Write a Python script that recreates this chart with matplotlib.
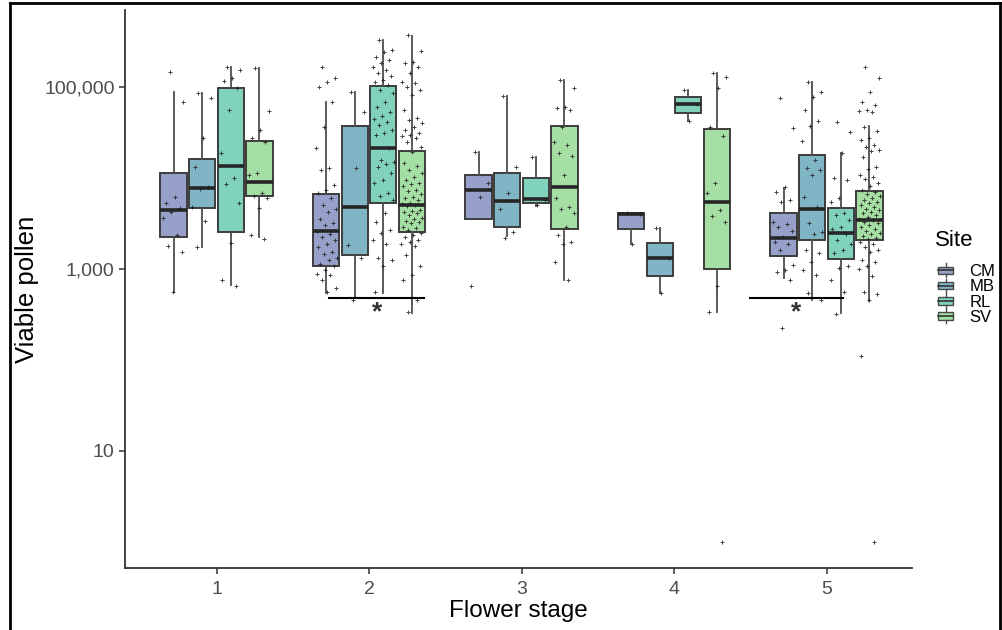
import matplotlib
matplotlib.use("Agg")
import matplotlib.pyplot as plt
import numpy as np
from matplotlib.legend_handler import HandlerBase
from matplotlib.patches import Rectangle, Patch
from matplotlib.lines import Line2D
from matplotlib.ticker import FixedLocator, FixedFormatter, NullLocator

plt.rcParams['font.family'] = ['Liberation Sans', 'DejaVu Sans']

stages = [1, 2, 3, 4, 5]
stage_labels = ['1', '2', '3', '4', '5']
sites = ['CM', 'MB', 'RL', 'SV']
colors = {'CM': '#96A0C8', 'MB': '#7FB5C5', 'RL': '#80D2BD', 'SV': '#A6DFA3'}

# box statistics in log10(viable pollen), one value per flower stage 1..5
q1 = {'CM': [3.35, 3.03, 3.55, 3.44, 3.14],
      'MB': [3.67, 3.15, 3.46, 2.92, 3.32],
      'RL': [3.41, 3.72, 3.72, 4.71, 3.11],
      'SV': [3.80, 3.41, 3.44, 3.00, 3.32]}
med = {'CM': [3.65, 3.42, 3.87, 3.60, 3.34],
       'MB': [3.89, 3.68, 3.75, 3.12, 3.66],
       'RL': [4.13, 4.33, 3.77, 4.81, 3.40],
       'SV': [3.96, 3.70, 3.90, 3.74, 3.54]}
q3 = {'CM': [4.05, 3.82, 4.03, 3.61, 3.61],
      'MB': [4.21, 4.57, 4.05, 3.29, 4.25],
      'RL': [4.99, 5.01, 4.00, 4.89, 3.67],
      'SV': [4.41, 4.30, 4.57, 4.54, 3.86]}
whis_lo = {'CM': [2.75, 2.74, 3.55, 3.27, 2.90],
           'MB': [3.24, 2.68, 3.36, 2.74, 2.66],
           'RL': [2.82, 2.74, 3.69, 4.63, 2.52],
           'SV': [3.35, 2.52, 2.88, 2.53, 2.65]}
whis_hi = {'CM': [4.95, 4.83, 4.29, 3.61, 3.89],
           'MB': [4.93, 4.94, 4.90, 3.45, 5.05],
           'RL': [5.22, 5.52, 4.23, 4.97, 4.27],
           'SV': [5.21, 5.56, 5.08, 5.15, 4.57]}

# individual observations (log10 viable pollen), per site, per stage
points_CM = [
    [5.16, 4.84, 3.79, 3.72, 3.67, 3.63, 3.56, 3.37, 3.25, 3.19, 2.75],
    [5.22, 5.10, 5.06, 5.00, 4.83, 4.56, 4.33, 4.11, 4.09, 3.92, 3.87, 3.83, 3.78,
     3.70, 3.66, 3.63, 3.55, 3.50, 3.48, 3.42, 3.38, 3.35, 3.32, 3.28, 3.24, 3.19,
     3.17, 3.12, 3.10, 3.05, 3.03, 2.99, 2.95, 2.93, 2.88, 2.79, 2.75],
    [4.29, 3.94, 3.79, 2.81],
    [3.62, 3.60, 3.27],
    [4.88, 4.55, 3.90, 3.85, 3.76, 3.74, 3.52, 3.49, 3.46, 3.42, 3.35, 3.30, 3.27,
     3.21, 3.04, 2.99, 2.97, 2.88, 2.35],
]
points_MB = [
    [4.93, 4.88, 4.44, 4.12, 3.90, 3.88, 3.68, 3.53, 3.24],
    [4.94, 4.73, 4.11, 3.26, 3.12, 2.66],
    [4.90, 4.12, 3.84, 3.66, 3.41, 3.34],
    [3.45, 3.12, 2.74],
    [5.05, 4.95, 4.89, 4.75, 4.63, 4.57, 4.41, 4.20, 4.11, 4.09, 4.03, 3.79, 3.68,
     3.50, 3.41, 3.38, 3.21, 3.18, 3.08, 2.99, 2.93, 2.74, 2.66],
]
points_RL = [
    [5.22, 5.19, 5.10, 5.07, 4.99, 4.75, 4.27, 4.00, 3.93, 3.73, 3.29, 2.88, 2.81],
    [5.52, 5.41, 5.38, 5.33, 5.30, 5.26, 5.22, 5.19, 5.15, 5.12, 5.08, 5.05, 5.02,
     4.97, 4.93, 4.84, 4.78, 4.73, 4.68, 4.65, 4.62, 4.58, 4.53, 4.49, 4.47, 4.33,
     4.20, 4.18, 4.15, 4.12, 4.05, 3.98, 3.95, 3.83, 3.80, 3.76, 3.61, 3.52, 3.43,
     3.40, 3.32, 3.28, 3.12, 3.10, 3.03, 2.75],
    [4.23, 3.76, 3.70],
    [4.97, 4.81, 4.63],
    [4.62, 4.51, 4.27, 4.00, 3.98, 3.78, 3.74, 3.61, 3.59, 3.54, 3.46, 3.44, 3.38,
     3.32, 3.28, 3.21, 3.18, 3.03, 3.01, 2.88, 2.75, 2.51],
]
points_SV = [
    [5.21, 4.74, 4.53, 4.44, 4.39, 4.06, 4.03, 3.83, 3.80, 3.78, 3.67, 3.37, 3.33],
    [5.57, 5.39, 5.28, 5.26, 5.22, 5.15, 5.06, 5.04, 5.00, 4.97, 4.91, 4.75, 4.66,
     4.64, 4.60, 4.56, 4.53, 4.49, 4.47, 4.46, 4.44, 4.40, 4.34, 4.29, 4.16, 4.13,
     4.09, 4.05, 4.01, 3.98, 3.94, 3.93, 3.91, 3.87, 3.86, 3.82, 3.79, 3.78, 3.76,
     3.72, 3.71, 3.70, 3.69, 3.65, 3.64, 3.63, 3.61, 3.59, 3.56, 3.55, 3.53, 3.52,
     3.50, 3.46, 3.45, 3.43, 3.39, 3.37, 3.35, 3.32, 3.30, 3.28, 3.25, 3.15, 3.03,
     2.93, 2.88, 2.66, 2.53],
    [5.08, 4.99, 4.78, 4.77, 4.75, 4.56, 4.40, 4.36, 4.27, 4.24, 4.03, 3.78, 3.68,
     3.66, 3.62, 3.46, 3.37, 3.30, 3.28, 3.08, 2.88],
    [5.15, 5.11, 4.99, 4.56, 4.46, 3.95, 3.83, 3.65, 3.58, 3.52, 2.81, 2.53, 0.0],
    [5.22, 5.10, 4.95, 4.84, 4.80, 4.75, 4.74, 4.73, 4.56, 4.52, 4.44, 4.42, 4.36,
     4.34, 4.31, 4.30, 4.23, 4.12, 4.10, 4.03, 4.01, 3.99, 3.94, 3.91, 3.87, 3.85,
     3.82, 3.80, 3.78, 3.76, 3.74, 3.72, 3.70, 3.68, 3.66, 3.65, 3.63, 3.61, 3.59,
     3.57, 3.55, 3.54, 3.52, 3.50, 3.48, 3.46, 3.44, 3.42, 3.40, 3.38, 3.36, 3.34,
     3.33, 3.30, 3.27, 3.24, 3.21, 3.19, 3.10, 3.08, 3.03, 3.00, 2.92, 2.75, 2.73,
     2.66, 2.04, 0.0],
]
points = {'CM': points_CM, 'MB': points_MB, 'RL': points_RL, 'SV': points_SV}

# pairwise-test markers (stage position range, y level)
sig_spans = [(1.74, 2.36), (4.50, 5.11)]
sig_stars = [2.05, 4.80]


class BoxKeyHandler(HandlerBase):
    """Legend key drawn like a tiny boxplot (as ggplot does)."""
    def create_artists(self, legend, orig_handle, xdescent, ydescent,
                       width, height, fontsize, trans):
        x0, y0 = -xdescent, -ydescent
        fc = orig_handle.get_facecolor()
        rect = Rectangle((x0 + 0.08 * width, y0 + 0.2 * height), 0.84 * width, 0.6 * height,
                         facecolor=fc, edgecolor='#4a4a4a', lw=1.0, transform=trans)
        mid = Line2D([x0 + 0.08 * width, x0 + 0.92 * width], [y0 + 0.5 * height] * 2,
                     color='#333333', lw=1.2, transform=trans)
        wl = Line2D([x0 + 0.5 * width] * 2, [y0 - 0.05 * height, y0 + 0.2 * height],
                    color='#4a4a4a', lw=1.0, transform=trans)
        wh = Line2D([x0 + 0.5 * width] * 2, [y0 + 0.8 * height, y0 + 1.05 * height],
                    color='#4a4a4a', lw=1.0, transform=trans)
        return [rect, mid, wl, wh]


fig = plt.figure(figsize=(10.03, 6.30), dpi=100)
ax = fig.add_axes([125 / 1003, 62 / 630, 787 / 1003, 558 / 630])

dodge = 0.1875
box_w = 0.172
jit = 0.07
for k, site in enumerate(sites):
    off = (k - 1.5) * dodge
    stats = []
    pos = []
    for i, st in enumerate(stages):
        stats.append({'med': 10 ** med[site][i], 'q1': 10 ** q1[site][i],
                      'q3': 10 ** q3[site][i], 'whislo': 10 ** whis_lo[site][i],
                      'whishi': 10 ** whis_hi[site][i], 'fliers': []})
        pos.append(st + off)
    ax.bxp(stats, positions=pos, widths=box_w, showcaps=False, showfliers=False,
           patch_artist=True,
           boxprops=dict(facecolor=colors[site], edgecolor='#3d3d3d', lw=1.4),
           whiskerprops=dict(color='#4d4d4d', lw=1.3),
           medianprops=dict(color='#262626', lw=2.6, solid_capstyle='butt'))
    for i, st in enumerate(stages):
        vals = np.array(points[site][i])
        n = len(vals)
        # spread points across the box width in a fixed, repeatable pattern
        xs = st + off + ((np.arange(n) * 0.618034 + 0.31) % 1 - 0.5) * 2 * jit
        ax.plot(xs, 10 ** vals, linestyle='none', marker='+', markersize=3.2,
                mew=0.7, color='#222222', alpha=0.85, zorder=4)

for (a, b), s in zip(sig_spans, sig_stars):
    ax.plot([a, b], [480, 480], color='black', lw=1.5, zorder=5)
    ax.text(s, 330, '*', ha='center', va='center', fontsize=19, fontweight='bold',
            color='#333333', zorder=5)

ax.set_yscale('log')
ax.set_ylim(10 ** -0.286, 10 ** 5.846)
ax.set_xlim(0.4, 0.4 + 787 / 152.5)
ax.yaxis.set_major_locator(FixedLocator([10, 1000, 100000]))
ax.yaxis.set_major_formatter(FixedFormatter(['10', '1,000', '100,000']))
ax.yaxis.set_minor_locator(NullLocator())
ax.set_xticks(stages)
ax.set_xticklabels(stage_labels)

for side in ['top', 'right']:
    ax.spines[side].set_visible(False)
for side in ['left', 'bottom']:
    ax.spines[side].set_color('#333333')
    ax.spines[side].set_linewidth(1.3)
ax.tick_params(axis='both', colors='#333333', labelcolor='#4d4d4d',
               labelsize=14, length=4, width=1.1)
ax.tick_params(axis='x', pad=5)

ax.set_xlabel('Flower stage', fontsize=17.5, labelpad=2)
ax.set_ylabel('Viable pollen', fontsize=18.5, labelpad=4)

# legend: title placed separately to get ggplot's gap above the keys
fig.text(935 / 1003, 1 - 240 / 630, 'Site', fontsize=16, va='center', ha='left')
handles = [Patch(facecolor=colors[s]) for s in sites]
leg = fig.legend(handles, sites, loc='upper left',
                 bbox_to_anchor=(937 / 1003, 1 - 264 / 630), frameon=False,
                 fontsize=12, handlelength=1.05, handleheight=0.8,
                 labelspacing=0.0, handletextpad=0.9, borderpad=0.0,
                 borderaxespad=0.0, handler_map={Patch: BoxKeyHandler()})

# outer frame around the figure
fig.add_artist(Line2D([10 / 1003, 10 / 1003], [0, 1 - 3 / 630], transform=fig.transFigure,
                      color='black', lw=2))
fig.add_artist(Line2D([10 / 1003, 1000 / 1003], [1 - 3 / 630, 1 - 3 / 630],
                      transform=fig.transFigure, color='black', lw=2))
fig.add_artist(Line2D([1000 / 1003, 1000 / 1003], [0, 1 - 3 / 630], transform=fig.transFigure,
                      color='black', lw=2))

fig.savefig('out.png', dpi=100)
